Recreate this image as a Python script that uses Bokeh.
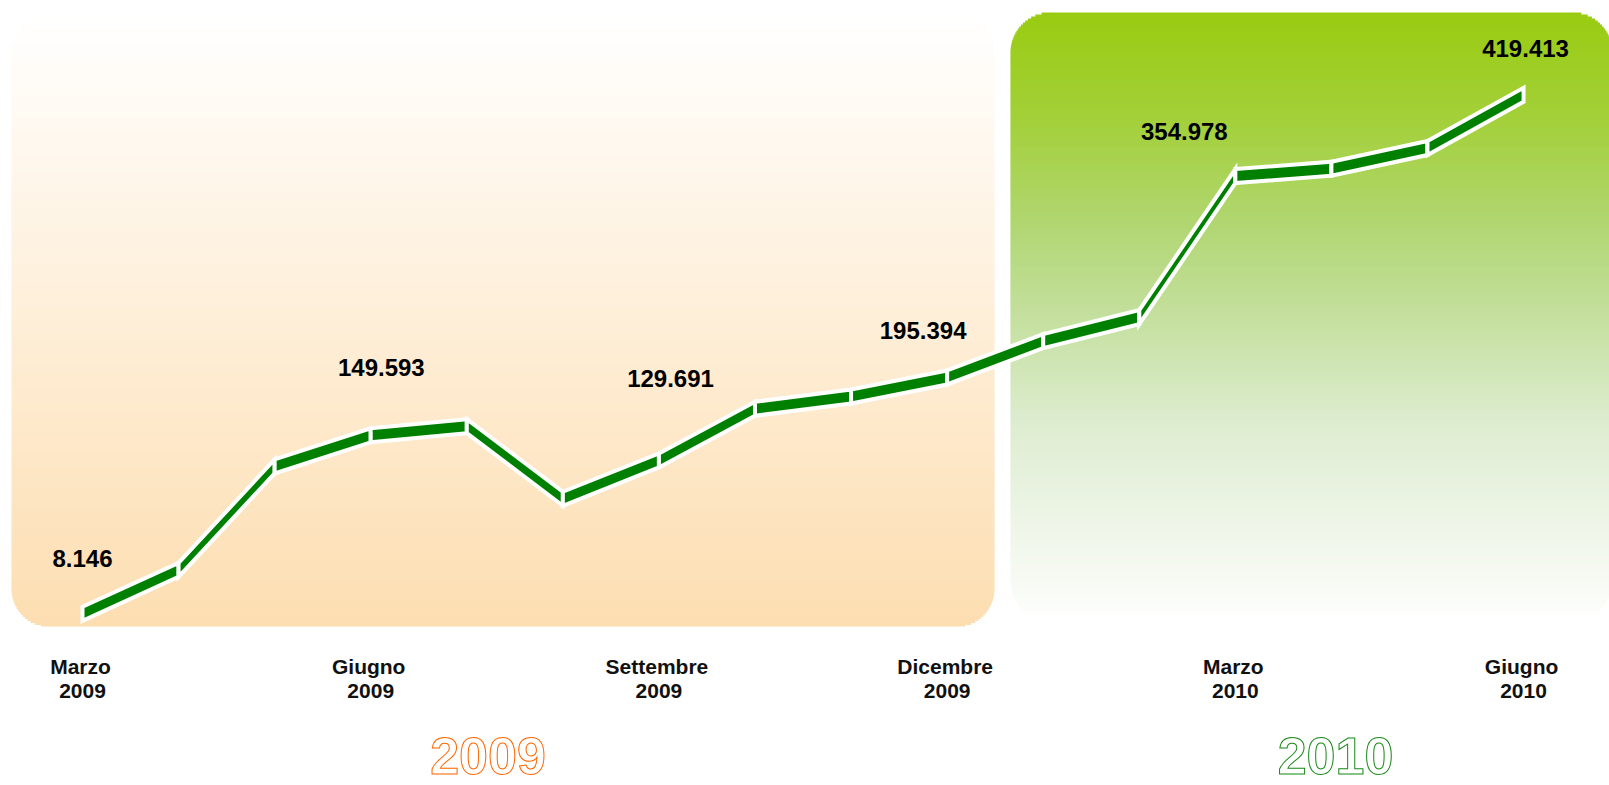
import numpy as np
from bokeh.plotting import figure
from bokeh.models import Range1d
from bokeh.core.properties import value
from bokeh.embed import file_html
from bokeh.resources import INLINE

# ---------------- data ----------------
months = ["Marzo 2009", "Aprile 2009", "Maggio 2009", "Giugno 2009", "Luglio 2009",
          "Agosto 2009", "Settembre 2009", "Ottobre 2009", "Novembre 2009", "Dicembre 2009",
          "Gennaio 2010", "Febbraio 2010", "Marzo 2010", "Aprile 2010", "Maggio 2010",
          "Giugno 2010"]
values = [8.146, 43.0, 124.9, 149.593, 156.8, 99.3, 129.691, 170.6, 180.3, 195.394,
          224.2, 243.2, 354.978, 360.8, 377.2, 419.413]
tick_idx = [0, 3, 6, 9, 12, 15]
tick_months = ["Marzo", "Giugno", "Settembre", "Dicembre", "Marzo", "Giugno"]
tick_years = ["2009", "2009", "2009", "2009", "2010", "2010"]
label_idx = [0, 3, 6, 9, 12, 15]
label_texts = ["8.146", "149.593", "129.691", "195.394", "354.978", "419.413"]
year_labels = ["2009", "2010"]

# ---------------- layout / style ----------------
W, H = 1609, 785
X0PX, DXPX = 82.0, 96.07          # pixel position of first month, pixels per month
Y0PX, PPU = 613.3, 1.262          # pixel (from top) of first value, pixels per unit
x_start = -X0PX / DXPX
x_end = (W - X0PX) / DXPX
y_start = values[0] - (H - Y0PX) / PPU
y_end = values[0] + Y0PX / PPU

p = figure(width=W, height=H, output_backend="svg", toolbar_location=None,
           x_range=Range1d(x_start, x_end), y_range=Range1d(y_start, y_end),
           x_axis_type=None, y_axis_type=None, min_border=0,
           background_fill_color="white", border_fill_color="white",
           outline_line_color=None)
p.extra_x_ranges = {"px": Range1d(0, W)}
p.extra_y_ranges = {"px": Range1d(H, 0)}


def hex2rgb(h):
    h = h.lstrip("#")
    return np.array([int(h[i:i + 2], 16) for i in (0, 2, 4)], dtype=float)


def interp_color(y, stops):
    ys = [s[0] for s in stops]
    cols = [hex2rgb(s[1]) for s in stops]
    if y <= ys[0]:
        c = cols[0]
    elif y >= ys[-1]:
        c = cols[-1]
    else:
        k = np.searchsorted(ys, y) - 1
        t = (y - ys[k]) / (ys[k + 1] - ys[k])
        c = cols[k] * (1 - t) + cols[k + 1] * t
    return "#%02x%02x%02x" % tuple(int(round(v)) for v in c)


def gradient_box(L, R, T, B, r, stops, step=2.0):
    lefts, rights, tops, bottoms, colors = [], [], [], [], []
    y = T
    while y < B:
        yc = min(y + step / 2, B)
        inset = 0.0
        if yc < T + r:
            dy = T + r - yc
            inset = r - np.sqrt(max(r * r - dy * dy, 0))
        elif yc > B - r:
            dy = yc - (B - r)
            inset = r - np.sqrt(max(r * r - dy * dy, 0))
        lefts.append(L + inset)
        rights.append(R - inset)
        tops.append(y)
        bottoms.append(min(y + step + 0.6, B))
        colors.append(interp_color(yc, stops))
        y += step
    p.quad(left=lefts, right=rights, top=tops, bottom=bottoms, fill_color=colors,
           line_color=None, x_range_name="px", y_range_name="px")


# left (2009) box: white -> peach
gradient_box(11, 994, 14, 626, 38, [(14, "#ffffff"), (626, "#fddeb1")])
# right (2010) box: green -> white
gradient_box(1010, 1612, 12, 620, 40,
             [(12, "#99cc11"), (120, "#a3d03a"), (220, "#b0d670"), (320, "#c5e0a0"),
              (420, "#ddeccf"), (520, "#eef5e7"), (600, "#fafcf8"), (620, "#ffffff")])

# ---------------- 3D-like ribbon line ----------------
hh = 7.0 / PPU
xs, ys = [], []
for i in range(len(values) - 1):
    xs.append([i, i + 1, i + 1, i])
    ys.append([values[i] + hh, values[i + 1] + hh, values[i + 1] - hh, values[i] - hh])
p.patches(xs, ys, fill_color="#008000", line_color="white", line_width=4,
          line_join="miter")

# ---------------- value labels ----------------
lab_dx = [0, 10.6, 11.6, -24, -51, 2]            # pixel offsets
lab_dy = [55.6, 67.3, 82.3, 47.3, 44.9, 45.9]    # pixels above point (text centre)
lx = [label_idx[k] + lab_dx[k] / DXPX for k in range(len(label_idx))]
ly = [values[label_idx[k]] + lab_dy[k] / PPU for k in range(len(label_idx))]
p.text(x=lx, y=ly, text=label_texts, text_font=value("Liberation Sans"),
       text_font_style="bold", text_font_size="24px", text_color="#000000",
       text_align="center", text_baseline="alphabetic")

# ---------------- month tick labels ----------------
p.text(x=tick_idx, y=[665.5] * len(tick_idx), text=tick_months, y_range_name="px",
       x_offset=-2, text_font=value("Liberation Sans"), text_font_style="bold",
       text_font_size="21px", text_color="#111111", text_align="center",
       text_baseline="alphabetic")
p.text(x=tick_idx, y=[690.3] * len(tick_idx), text=tick_years, y_range_name="px",
       text_font=value("Liberation Sans"), text_font_style="bold",
       text_font_size="21px", text_color="#111111", text_align="center",
       text_baseline="alphabetic")

# ---------------- big outlined year labels ----------------
p.text(x=[487.5], y=[755], text=[year_labels[0]], x_range_name="px", y_range_name="px",
       text_font=value("Liberation Sans"), text_font_style="bold",
       text_font_size="52px", text_color="white", text_outline_color="#ff6600",
       text_align="center", text_baseline="alphabetic")
p.text(x=[1335], y=[755], text=[year_labels[1]], x_range_name="px", y_range_name="px",
       text_font=value("Liberation Sans"), text_font_style="bold",
       text_font_size="52px", text_color="white", text_outline_color="#1a8a1a",
       text_align="center", text_baseline="alphabetic")

open("out.html", "w").write(file_html(p, INLINE))
